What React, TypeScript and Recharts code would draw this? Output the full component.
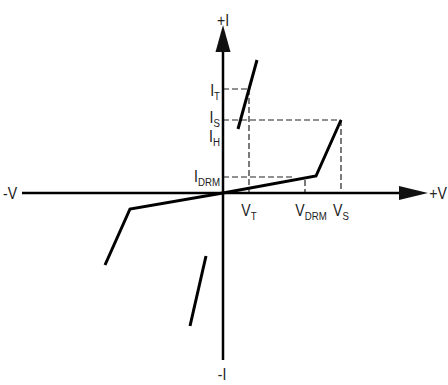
import React from 'react';
import { ComposedChart, Line, XAxis, YAxis, ReferenceLine, ReferenceDot } from 'recharts';

// key points of the characteristic (1 unit ~ 10px of the original drawing)
const V_T = 2.6;
const V_DRM = 8.2;
const V_S = 11.8;
const I_T = 10.4;
const I_S = 7.3;
const I_H = 6.4;
const I_DRM = 1.6;

const X_DOMAIN = [-20.1, 20.5];
const Y_DOMAIN = [-16.7, 16.8];

// curve segments
const forwardBlocking = [
  { x: 0, y: 0 },
  { x: 9.3, y: 1.7 },
  { x: V_S, y: I_S },
];
const reverseBlocking = [
  { x: 0, y: 0 },
  { x: -9.3, y: -1.6 },
  { x: -11.8, y: -7.2 },
];
const onState = [
  { x: 1.5, y: I_H },
  { x: 3.4, y: 13.3 },
];
const reverseOnState = [
  { x: -1.7, y: -6.3 },
  { x: -3.3, y: -13.3 },
];

// dashed guide lines
const guides = [
  [{ x: 0, y: I_T }, { x: V_T, y: I_T }],
  [{ x: V_T, y: I_T }, { x: V_T, y: 0 }],
  [{ x: 0, y: I_S }, { x: V_S, y: I_S }],
  [{ x: V_S, y: I_S }, { x: V_S, y: 0 }],
  [{ x: 0, y: I_DRM }, { x: 7.0, y: I_DRM }],
  [{ x: V_DRM, y: 1.3 }, { x: V_DRM, y: 0 }],
];

const currentLabels = [
  { main: 'I', sub: 'T', y: I_T, dy: 7 },
  { main: 'I', sub: 'S', y: I_S, dy: 3 },
  { main: 'I', sub: 'H', y: I_H, dy: 13 },
  { main: 'I', sub: 'DRM', y: I_DRM, dy: 5 },
];
const voltageLabels = [
  { main: 'V', sub: 'T', x: V_T, dx: 0 },
  { main: 'V', sub: 'DRM', x: V_DRM, dx: 6 },
  { main: 'V', sub: 'S', x: V_S, dx: 0 },
];

const FONT = '"Liberation Sans Narrow", "Arial Narrow", "Liberation Sans", Arial, sans-serif';
const INK = '#000';
const TEXT = '#222';

// narrow-ish text, squeezed horizontally
const NarrowText = ({ x, y, anchor, children }: any) => (
  <g transform={`translate(${x},${y}) scale(0.88,1)`}>
    <text x={0} y={0} textAnchor={anchor} fontFamily={FONT} fontSize={16} fill={TEXT}>
      {children}
    </text>
  </g>
);

const SubText = ({ x, y, main, sub, anchor }: any) => (
  <NarrowText x={x} y={y} anchor={anchor}>
    {main}
    <tspan dy={3.5} fontSize={11}>{sub}</tspan>
  </NarrowText>
);

export default function App() {
  return (
    <div style={{ position: 'absolute', left: 0, top: 0, background: '#fff' }}>
      <ComposedChart width={448} height={385} margin={{ top: 25, right: 20, bottom: 25, left: 22 }}>
        <XAxis type="number" dataKey="x" domain={X_DOMAIN} hide allowDataOverflow />
        <YAxis type="number" dataKey="y" domain={Y_DOMAIN} hide width={0} allowDataOverflow />

        {guides.map((seg, i) => (
          <ReferenceLine key={i} segment={seg} stroke="#222" strokeWidth={1.2} strokeDasharray="6 3" />
        ))}

        {/* axes */}
        <ReferenceLine segment={[{ x: X_DOMAIN[0], y: 0 }, { x: 18, y: 0 }]} stroke={INK} strokeWidth={2.5} />
        <ReferenceLine segment={[{ x: 0, y: Y_DOMAIN[0] }, { x: 0, y: 14.5 }]} stroke={INK} strokeWidth={2.5} />
        <ReferenceDot
          x={X_DOMAIN[1]}
          y={0}
          shape={(p: any) => (
            <path d={`M${p.cx},${p.cy} L${p.cx - 29},${p.cy - 7} L${p.cx - 29},${p.cy + 7} Z`} fill="#111" />
          )}
        />
        <ReferenceDot
          x={0}
          y={Y_DOMAIN[1]}
          shape={(p: any) => (
            <path d={`M${p.cx},${p.cy} L${p.cx - 7.5},${p.cy + 27} L${p.cx + 7.5},${p.cy + 27} Z`} fill="#111" />
          )}
        />

        <Line data={forwardBlocking} dataKey="y" stroke={INK} strokeWidth={3} dot={false} isAnimationActive={false} />
        <Line data={reverseBlocking} dataKey="y" stroke={INK} strokeWidth={3} dot={false} isAnimationActive={false} />
        <Line data={onState} dataKey="y" stroke={INK} strokeWidth={3} dot={false} isAnimationActive={false} />
        <Line data={reverseOnState} dataKey="y" stroke={INK} strokeWidth={3} dot={false} isAnimationActive={false} />

        {/* axis names */}
        <ReferenceDot x={X_DOMAIN[0]} y={0} shape={(p: any) => (
          <NarrowText x={p.cx - 12} y={p.cy + 6} anchor="middle">-V</NarrowText>
        )} />
        <ReferenceDot x={X_DOMAIN[1]} y={0} shape={(p: any) => (
          <NarrowText x={p.cx + 10} y={p.cy + 6} anchor="middle">+V</NarrowText>
        )} />
        <ReferenceDot x={0} y={Y_DOMAIN[1]} shape={(p: any) => (
          <NarrowText x={p.cx} y={p.cy + 1} anchor="middle">+I</NarrowText>
        )} />
        <ReferenceDot x={0} y={Y_DOMAIN[0]} shape={(p: any) => (
          <NarrowText x={p.cx - 1} y={p.cy + 20} anchor="middle">-I</NarrowText>
        )} />

        {currentLabels.map((l) => (
          <ReferenceDot key={l.sub + 'i'} x={0} y={l.y} shape={(p: any) => (
            <SubText x={p.cx - 3} y={p.cy + l.dy} main={l.main} sub={l.sub} anchor="end" />
          )} />
        ))}
        {voltageLabels.map((l) => (
          <ReferenceDot key={l.sub + 'v'} x={l.x} y={0} shape={(p: any) => (
            <SubText x={p.cx + l.dx} y={p.cy + 23} main={l.main} sub={l.sub} anchor="middle" />
          )} />
        ))}
      </ComposedChart>
    </div>
  );
}
